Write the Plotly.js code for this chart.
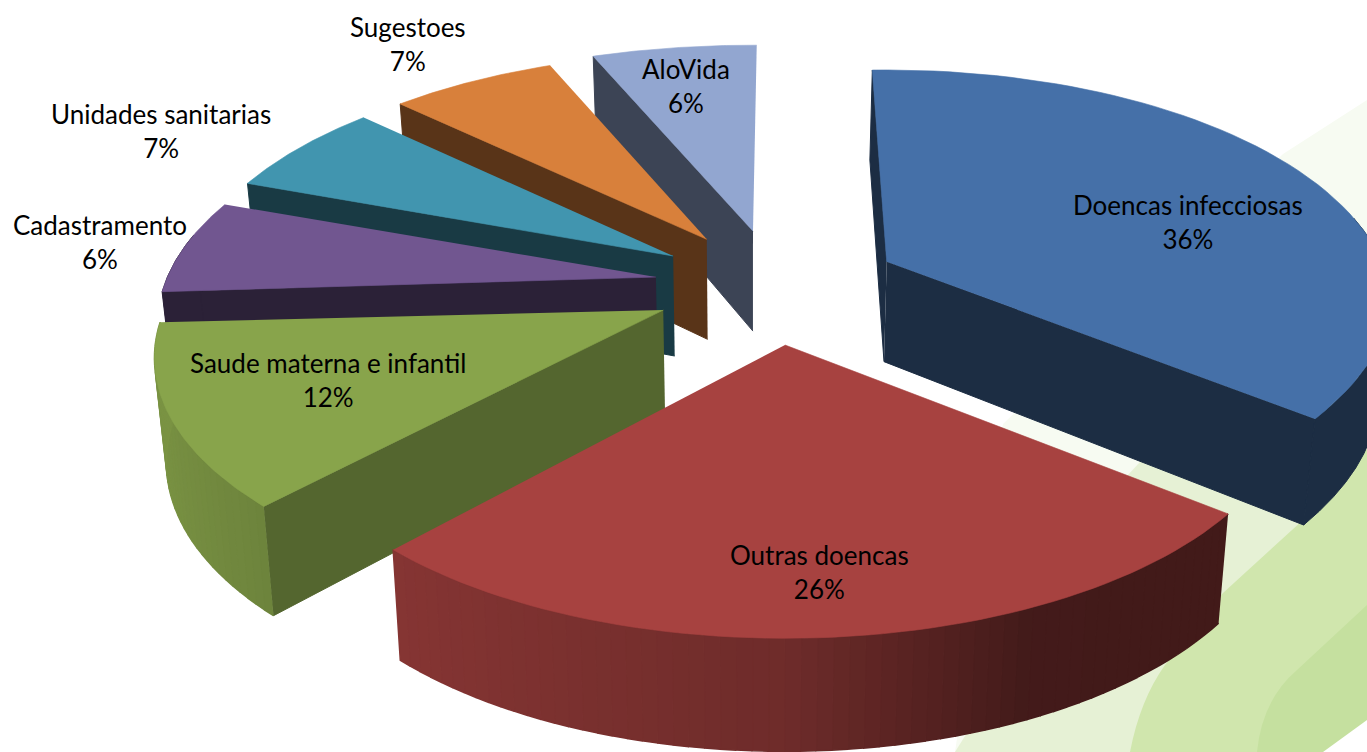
<!DOCTYPE html>
<html><head><meta charset="utf-8">
<script src="https://cdn.plot.ly/plotly-3.0.0.min.js"></script>
<style>html,body{margin:0;padding:0;background:#fff;overflow:hidden}#c{width:1367px;height:752px}</style>
</head><body><div id="c"></div>
<script>
// data
var categories = ["Doencas infecciosas","Outras doencas","Saude materna e infantil","Cadastramento","Unidades sanitarias","Sugestoes","AloVida"];
var percents = [36,26,12,6,7,7,6];
// styling
var topColors = ["#4570a8","#a74240","#88a44b","#715690","#4195af","#d8803b","#92a6d0"];
var faceShade = [0.40,0.40,0.62,0.38,0.39,0.41,0.41];
var rimLit = [false,true,true,false,false,false,false];
var pulls = [0.258,0.238,0.236,0.23,0.225,0.225,0.235];
var apexDX = [0,7.5,0,0,0,0,5];
var apexDY = [0,0,-2,-4,-4.5,-4,-1.5];
var skewStart = [-2,-0.6,0,0,1.7,0.5,0];
var skewEnd = [-2.6,-1.2,0.6,1.7,0,-1,0.5];
var scaleX = [1,1.007,1.007,0.987,0.975,0.975,1.04];
var scaleY = [1,1.02,1,1,1,0.97,0.97];
var nearSquash = [0.13,0,0,0,0,0,0];
var depthExtra = [0,3,2,0,0,0,0];
var labelX = [1188,819,328,100,161,408,686];
var labelY = [222,572,380,242,131,44,86];
var drawOrder = [6,5,4,3,0,2,1];
// 3D view
var cx=770, cy=288, Sx=495, Sy=230, persp=0.2, pullX=500, pullY=240;
var depth=100, depthTilt=10, vanishX=750, bottomScale=0.98;

function rad(d){return d*Math.PI/180;}
function hex(c,f){var n=parseInt(c.slice(1),16);
  var r=Math.round(((n>>16)&255)*f),g=Math.round(((n>>8)&255)*f),b=Math.round((n&255)*f);
  return "rgb("+r+","+g+","+b+")";}
function rimShade(u){
  var xs=[-1,-0.68,0,0.4,1], ys=[0.9,0.8,0.66,0.4,0.39];
  for(var i=1;i<xs.length;i++){ if(u<=xs[i]){var t=(u-xs[i-1])/(xs[i]-xs[i-1]);return ys[i-1]+t*(ys[i]-ys[i-1]);}}
  return 0.39;}
var total=percents.reduce(function(a,b){return a+b;},0);
var starts=[],acc=0;
percents.forEach(function(p){starts.push(acc/total*360);acc+=p;});
function apex(i){var m=rad(starts[i]+percents[i]/total*180);
  return [cx+pullX*pulls[i]*Math.sin(m)+apexDX[i], cy-pullY*pulls[i]*Math.cos(m)+apexDY[i]];}
function topPt(i,th,r){var a=apex(i),u=r*Math.sin(rad(th)),v=r*Math.cos(rad(th)),w=1+persp*v;
  var near=v<0?1-nearSquash[i]*v*v:1;
  return [a[0]+Sx*scaleX[i]*near*u/w, a[1]-Sy*scaleY[i]*v/w];}
function botPt(i,th,r){var p=topPt(i,th,r),v=r*Math.cos(rad(th));
  return [vanishX+(p[0]-vanishX)*bottomScale, p[1]+depth+depthExtra[i]*r-depthTilt*v];}

var traces=[];
function poly(pts,color,lw){
  traces.push({type:"scatter",mode:"lines",x:pts.map(function(p){return p[0];}),y:pts.map(function(p){return p[1];}),
    fill:"toself",fillcolor:color,line:{color:color,width:lw||0.6},hoverinfo:"skip",showlegend:false});}

drawOrder.forEach(function(i){
  var a0=starts[i]+skewStart[i], a1=starts[i]+percents[i]/total*360+skewEnd[i], col=topColors[i];
  var s0=Math.sin(rad(starts[i])), s1=Math.sin(rad(starts[i]+percents[i]/total*360));
  if(s0<=0.001) poly([topPt(i,a0,0),topPt(i,a0,1),botPt(i,a0,1),botPt(i,a0,0)],hex(col,faceShade[i]),1);
  if(s1>=0.001) poly([topPt(i,a1,0),topPt(i,a1,1),botPt(i,a1,1),botPt(i,a1,0)],hex(col,faceShade[i]),1);
  if(rimLit[i]){
    var n=Math.max(1,Math.ceil((a1-a0)/1.5));
    for(var k=0;k<n;k++){
      var t0=a0+(a1-a0)*k/n, t1=a0+(a1-a0)*(k+1)/n;
      poly([topPt(i,t0,1),topPt(i,t1,1),botPt(i,t1,1),botPt(i,t0,1)],hex(col,rimShade(Math.sin(rad((t0+t1)/2)))),1.6);
    }
  } else {
    var up=[],dn=[];
    for(var q=0;q<=40;q++){var t=a0+(a1-a0)*q/40; if(Math.cos(rad(t))>0.2) continue; up.push(topPt(i,t,1)); dn.unshift(botPt(i,t,1));}
    if(up.length>1) poly(up.concat(dn),hex(col,faceShade[i]),1);
  }
  var pts=[topPt(i,a0,0)];
  for(var j=0;j<=60;j++) pts.push(topPt(i,a0+(a1-a0)*j/60,1));
  poly(pts,col);
});

var annotations=categories.map(function(c,i){
  return {x:labelX[i],y:labelY[i],xref:"x",yref:"y",text:c+"<br>"+percents[i]+"%",showarrow:false,
    xanchor:"center",yanchor:"middle",align:"center",font:{family:"Lato, 'Open Sans', sans-serif",size:26,color:"#000"}};
});
var bandPaths=[
  {c:"#f7fbf2",d:"M1367,100 L1283,154 L1003,424 L955,752 L1367,752 Z"},
  {c:"#e6f1d5",d:"M1367,285 L1140,462 L1127,476 L955,752 L1367,752 Z"},
  {c:"#d0e6ad",d:"M1367,449 L1303,520 L1223,593 L1165,665 Q1140,700 1130,752 L1367,752 Z"},
  {c:"#c5e09f",d:"M1367,605 L1297,670 Q1262,700 1257,752 L1367,752 Z"},
  {c:"#ffffff",d:"M1323,752 L1367,720 L1367,752 Z"}
];
var shapes=bandPaths.map(function(b){return {type:"path",path:b.d,xref:"x",yref:"y",fillcolor:b.c,line:{width:0},layer:"below"};});
Plotly.newPlot("c",traces,{width:1367,height:752,margin:{l:0,r:0,t:0,b:0},paper_bgcolor:"#fff",plot_bgcolor:"rgba(0,0,0,0)",
  showlegend:false,hovermode:false,
  xaxis:{range:[0,1367],visible:false,fixedrange:true},
  yaxis:{range:[752,0],visible:false,fixedrange:true},
  annotations:annotations,shapes:shapes},{displayModeBar:false,staticPlot:true});
</script></body></html>
